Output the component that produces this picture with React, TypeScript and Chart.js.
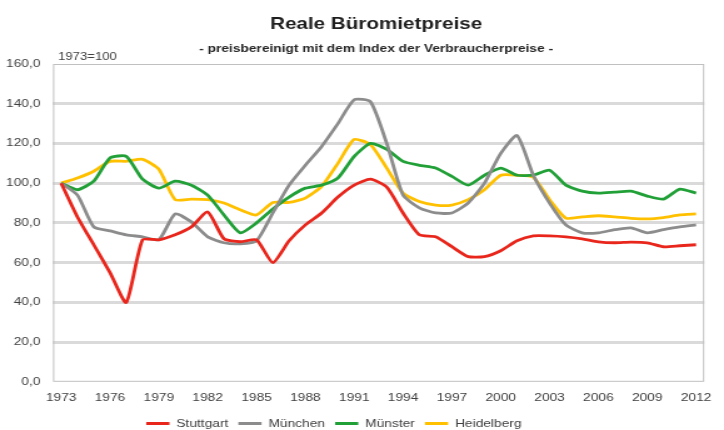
import React, { useEffect, useRef } from "react";
import { Chart, registerables } from "chart.js";

Chart.register(...registerables);

const years: string[] = [];
for (let y = 1973; y <= 2012; y++) years.push(String(y));

const stuttgart = [100, 83, 69, 55, 40, 71.5, 71.5, 74, 78, 85.5, 72, 70.5, 71.5, 60, 71, 79, 85, 93, 99, 102, 98, 85, 74, 73, 68, 63, 63, 66, 71, 73.5, 73.5, 73, 72, 70.5, 70, 70.3, 70, 68, 68.5, 69];
const muenchen = [100, 94, 78, 76, 74, 73, 71.5, 84.5, 80.5, 73, 70, 69.5, 71, 85, 99, 109, 118.5, 130, 142, 141, 120, 94, 87.6, 85, 85, 90, 100, 115, 124, 104, 90, 79, 75, 75, 76.6, 77.5, 75, 76.6, 78, 79];
const muenster = [100, 96.7, 101, 112.7, 113.5, 102, 97.5, 101, 99, 94, 84, 75, 80, 87, 93, 97.5, 99, 102.6, 113.5, 120, 117, 111, 109, 107.6, 103.4, 99, 104, 107.6, 104, 104, 106.5, 99, 96, 95, 95.5, 96, 93.5, 92, 97, 95];
const heidelberg = [100, 102.6, 106, 111, 111, 112, 107, 91.7, 92, 91.7, 90, 86.6, 84, 90.3, 90.3, 92.5, 98.4, 110, 122, 119.4, 107.6, 95, 90.8, 89, 89, 91.7, 96.7, 104, 104, 103, 91.7, 82.4, 83, 83.6, 83, 82.3, 82, 82.7, 84, 84.5];

const seriesNames = ["Stuttgart", "München", "Münster", "Heidelberg"];
const seriesColors = ["#e8261c", "#8c8c8c", "#22a038", "#ffc000"];

const titleText = "Reale Büromietpreise";
const subtitleText = "- preisbereinigt mit dem Index der Verbraucherpreise -";
const baseNote = "1973=100";

const FONT = "'Liberation Sans', Arial, sans-serif";
// the reference image is stretched horizontally; render narrower and stretch via CSS
const CANVAS_W = 579;
const CANVAS_H = 430;

export default function App() {
  const ref = useRef<HTMLCanvasElement | null>(null);
  useEffect(() => {
    if (!ref.current) return;
    const values = [stuttgart, muenchen, muenster, heidelberg];
    const extras = {
      id: "extras",
      afterLayout(chart: any) {
        const l = chart.legend;
        if (l) {
          l.left -= 19;
          l.right -= 19;
          l.top -= 5;
          l.bottom -= 5;
        }
      },
      afterDatasetsDraw(chart: any) {
        const { ctx, chartArea } = chart;
        ctx.save();
        ctx.strokeStyle = "#c0c0c0";
        ctx.lineWidth = 1;
        ctx.strokeRect(chartArea.left + 0.5, chartArea.top + 0.5, chartArea.right - chartArea.left - 1, chartArea.bottom - chartArea.top - 1);
        ctx.restore();
      },
      afterDraw(chart: any) {
        const { ctx, chartArea } = chart;
        const cx = (chartArea.left + chartArea.right) / 2 - 2;
        ctx.save();
        ctx.textAlign = "center";
        ctx.textBaseline = "alphabetic";
        ctx.fillStyle = "#1e1e1e";
        ctx.font = "bold 16.5px " + FONT;
        ctx.fillText(titleText, cx, 29);
        ctx.fillStyle = "#262626";
        ctx.font = "bold 11px " + FONT;
        ctx.fillText(subtitleText, cx, 52);
        ctx.textAlign = "left";
        ctx.fillStyle = "#404040";
        ctx.font = "10.5px " + FONT;
        ctx.fillText(baseNote, chartArea.left + 4, 59.5);
        ctx.restore();
      },
    };
    const chart = new Chart(ref.current, {
      type: "line",
      data: {
        labels: years,
        datasets: seriesNames.map((n, i) => ({
          label: n,
          data: values[i],
          borderColor: seriesColors[i],
          backgroundColor: seriesColors[i],
          borderWidth: 2.8,
          pointRadius: 0,
          tension: 0.2,
          fill: false,
        })),
      },
      options: {
        responsive: false,
        animation: false,
        layout: { padding: { left: 0, right: 7, top: 64, bottom: -14 } },
        plugins: {
          title: { display: false },
          legend: {
            position: "bottom",
            labels: {
              color: "#404040",
              font: { family: FONT, size: 11 },
              boxWidth: 18.6,
              boxHeight: 3,
              padding: 8,
              generateLabels: (c: any) =>
                Chart.defaults.plugins.legend.labels.generateLabels(c).map((l: any) => ({ ...l, lineWidth: 0, fillStyle: l.strokeStyle })),
            },
          },
          tooltip: { enabled: false },
        },
        scales: {
          x: {
            offset: true,
            grid: { display: false, drawTicks: false },
            border: { display: false },
            ticks: {
              autoSkip: false,
              maxRotation: 0,
              padding: 10,
              color: "#404040",
              font: { family: FONT, size: 11 },
              callback: (v: any, i: number) => (i % 3 === 0 ? years[i] : ""),
            },
          },
          y: {
            min: 0,
            max: 160,
            afterFit: (s: any) => {
              s.width = 42.4;
            },
            grid: {
              drawTicks: false,
              lineWidth: 3,
              color: (c: any) => (c.tick && (c.tick.value === 0 || c.tick.value === 160) ? "rgba(0,0,0,0)" : "#dadada"),
            },
            border: { display: false },
            ticks: {
              stepSize: 20,
              padding: 10,
              color: "#404040",
              font: { family: FONT, size: 11 },
              callback: (v: any) => Number(v).toFixed(1).replace(".", ","),
            },
          },
        },
      },
      plugins: [extras],
    });
    return () => chart.destroy();
  }, []);
  return (
    <div style={{ position: "absolute", left: 0, top: 0, width: 724, height: 430, background: "#fff" }}>
      <canvas ref={ref} width={CANVAS_W} height={CANVAS_H} style={{ display: "block", width: "724px", height: "430px" }} />
    </div>
  );
}
